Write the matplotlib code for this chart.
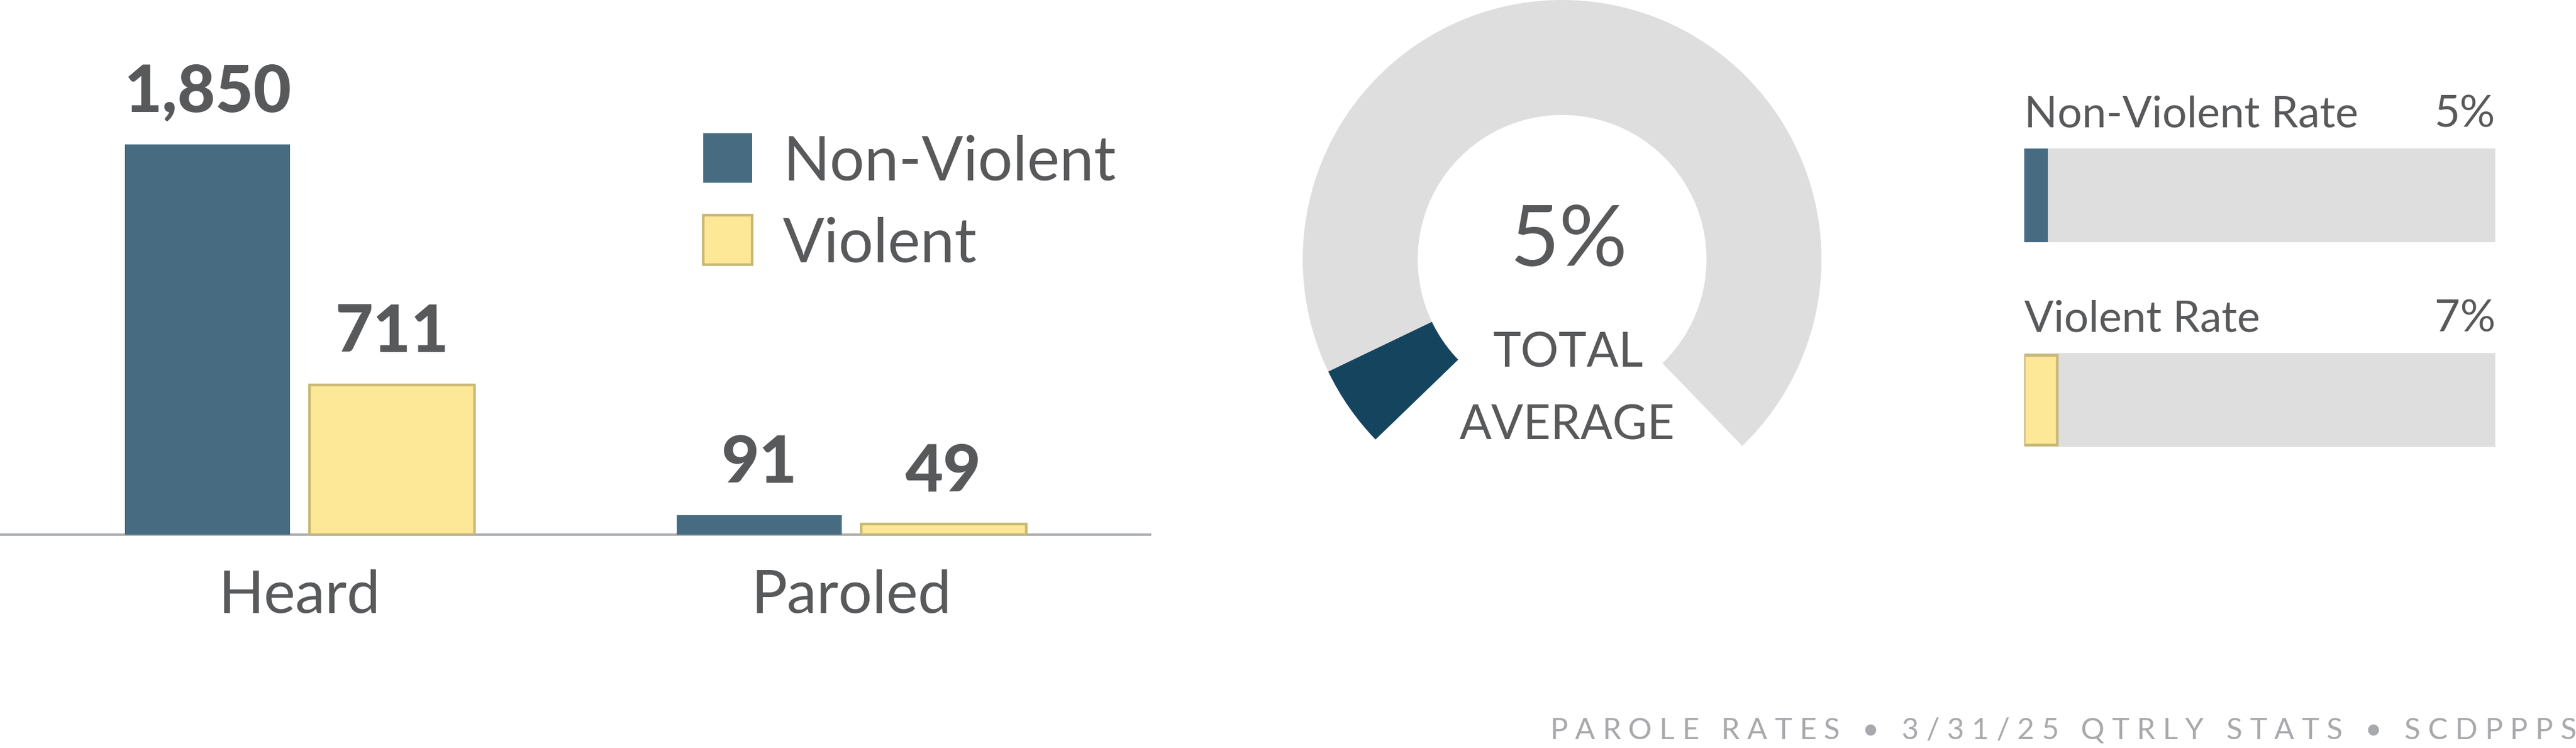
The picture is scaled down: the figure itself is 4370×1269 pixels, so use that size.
import matplotlib
matplotlib.use("Agg")
import matplotlib.pyplot as plt
import numpy as np
from matplotlib.patches import Wedge, Rectangle
from matplotlib.font_manager import FontProperties, findfont
from matplotlib.ft2font import FT2Font

# ---------------- data ----------------
categories = ["Heard", "Paroled"]
series_names = ["Non-Violent", "Violent"]
non_violent = [1850, 91]
violent = [711, 49]

gauge_label = "5%"
gauge_caption = ["TOTAL", "AVERAGE"]
gauge_share = 0.068          # filled share of the gauge arc

rate_names = ["Non-Violent Rate", "Violent Rate"]
rates = [5, 7]               # percent

footer = "PAROLE RATES \u2022 3/31/25 QTRLY STATS \u2022 SCDPPPS"

# ---------------- style ----------------
W, H, DPI = 4370, 1269, 100
C_NV = "#476C82"
C_V = "#FCE897"
C_V_EDGE = "#C8B874"
C_GRAY = "#DEDEDE"
C_DARK = "#15445F"
C_TEXT = "#58595B"
C_AXIS = "#A9ABAE"
C_FOOT = "#A7A9AC"
FONT = "Lato"

plt.rcParams["font.family"] = [FONT, "DejaVu Sans"]

fig = plt.figure(figsize=(W / DPI, H / DPI), dpi=DPI)
fig.patch.set_facecolor("white")


def fx(px):
    return px / W


def fy(py):
    return 1 - py / H


# ---------------- grouped bar chart ----------------
base_px = 907
ax = fig.add_axes([0, fy(base_px), fx(1951), 1 - fy(base_px)])
x = np.arange(len(categories))
bw = 0.299
off = 0.167
ax.bar(x - off, non_violent, bw, color=C_NV, zorder=2)
ax.bar(x + off, violent, bw, color=C_V, edgecolor=C_V_EDGE, linewidth=3.2, zorder=2)
ax.set_xlim(-0.543, 1.541)
ax.set_ylim(0, 2535)
for s in ["top", "left", "right"]:
    ax.spines[s].set_visible(False)
ax.spines["bottom"].set_color(C_AXIS)
ax.spines["bottom"].set_linewidth(3)
ax.spines["bottom"].set_zorder(1)
ax.set_yticks([])
ax.set_xticks(x)
ax.set_xticklabels(categories, fontsize=73, color=C_TEXT)
ax.tick_params(axis="x", length=0, pad=42)
ax.patch.set_alpha(0)

for xi, v in zip(x - off, non_violent):
    ax.annotate(f"{v:,}", (xi, v), xytext=(0, 40), textcoords="offset points",
                ha="center", va="baseline", fontsize=80, fontweight=900, color=C_TEXT)
for xi, v in zip(x + off, violent):
    ax.annotate(f"{v:,}", (xi, v), xytext=(0, 40), textcoords="offset points",
                ha="center", va="baseline", fontsize=80, fontweight=900, color=C_TEXT)

# legend (manual)
leg_colors = [(C_NV, "none", 0), (C_V, C_V_EDGE, 3.2)]
leg_tops = [226, 365]
for (fc, ec, lw), top, name in zip(leg_colors, leg_tops, series_names):
    fig.patches.append(Rectangle((fx(1193), fy(top + 84)), fx(83), 84 / H,
                                 transform=fig.transFigure, facecolor=fc,
                                 edgecolor=ec, linewidth=lw))
    fig.text(fx(1328), fy(top + 80), name, fontsize=75, color=C_TEXT,
             ha="left", va="baseline")

# ---------------- gauge / donut ----------------
cx, cy, R = 2650, 440, 440
half = 470
axd = fig.add_axes([fx(cx - half), fy(cy + half), 2 * half / W, 2 * half / H])
lim = half / R
axd.set_xlim(-lim, lim)
axd.set_ylim(-lim, lim)
axd.set_aspect("equal")
axd.axis("off")
start, span = 224.0, 270.0
ring_w = 1 - 245 / R
split = start - gauge_share * span
axd.add_patch(Wedge((0, 0), 1, start - span, split, width=ring_w, facecolor=C_GRAY, edgecolor="none"))
axd.add_patch(Wedge((0, 0), 1, split, start, width=ring_w, facecolor=C_DARK, edgecolor="none"))

fig.text(fx(2662), fy(451), gauge_label, fontsize=104, color=C_TEXT, ha="center", va="baseline")
fig.text(fx(2660), fy(623), gauge_caption[0], fontsize=58, color=C_TEXT, ha="center", va="baseline")
fig.text(fx(2659), fy(745), gauge_caption[1], fontsize=58, color=C_TEXT, ha="center", va="baseline")

# ---------------- rate bars ----------------
bh = 0.458
axr = fig.add_axes([fx(3434), fy(758), fx(4233) - fx(3434), (758 - 252) / H])
rows = np.arange(len(rates))
axr.barh(rows, [100] * len(rates), height=bh, color=C_GRAY, zorder=1)
axr.barh(rows[0], rates[0], height=bh, color=C_NV, zorder=2)
axr.barh(rows[1], rates[1], height=bh - 0.02, color=C_V, edgecolor=C_V_EDGE, linewidth=3.2, zorder=2)
axr.set_xlim(0, 100)
axr.set_ylim(1 + bh / 2, -bh / 2)
axr.axis("off")
for i, (name, r) in enumerate(zip(rate_names, rates)):
    axr.annotate(name, (0, i - bh / 2), xytext=(0, 26), textcoords="offset points",
                 ha="left", va="baseline", fontsize=53, color=C_TEXT)
    axr.annotate(f"{r}%", (100, i - bh / 2), xytext=(0, 26), textcoords="offset points",
                 ha="right", va="baseline", fontsize=54, color=C_TEXT)

# ---------------- footer with letter spacing ----------------
fsize = 36
fp = FontProperties(family=FONT, size=fsize)
ft = FT2Font(findfont(fp))
ft.set_size(fsize, DPI)
advs = [ft.load_char(ord(ch)).linearHoriAdvance / 65536 for ch in footer]
target_w = 4366 - 2629
track = (target_w - sum(advs[:-1]) - advs[-1] * 0.85) / (len(footer) - 1)
total = sum(advs[:-1]) + advs[-1] * 0.85 + track * (len(footer) - 1)
xpos = 4366 - total
for ch, a in zip(footer, advs):
    if ch != " ":
        fig.text(fx(xpos), fy(1254), ch, fontsize=fsize, color=C_FOOT,
                 ha="left", va="baseline")
    xpos += a + track

fig.savefig("out.png", dpi=DPI, facecolor="white")
